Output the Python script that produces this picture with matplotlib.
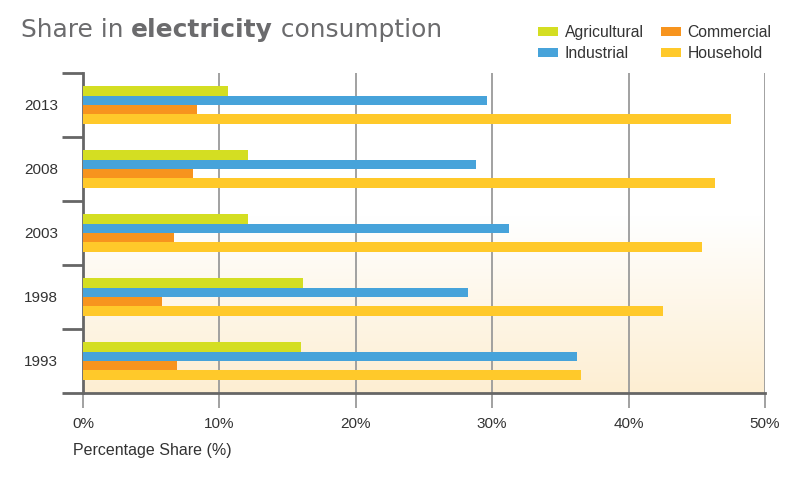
import numpy as np
import matplotlib
matplotlib.use('Agg')
import matplotlib.pyplot as plt
from matplotlib.colors import LinearSegmentedColormap
from matplotlib.patches import Patch

years = ['1993', '1998', '2003', '2008', '2013']
agricultural = [16.0, 16.1, 12.1, 12.1, 10.6]
industrial = [36.2, 28.2, 31.2, 28.8, 29.6]
commercial = [6.9, 5.8, 6.7, 8.1, 8.35]
household = [36.5, 42.5, 45.4, 46.3, 47.5]

series_names = ['Agricultural', 'Industrial', 'Commercial', 'Household']
colors = ['#D4DE22', '#47A3DA', '#F7941E', '#FFC92A']

plt.rcParams['font.family'] = ['Liberation Sans', 'DejaVu Sans']

fig = plt.figure(figsize=(8, 4.8), dpi=100)
ax = fig.add_axes([83/800, 1 - 393/480, (765-83)/800, (393-73)/480])

# soft peach gradient at the bottom of the plot area
grad = np.linspace(0, 1, 256).reshape(-1, 1)
cmap = LinearSegmentedColormap.from_list('bg', [(0, '#FDEED2'), (0.55, '#FFFFFF'), (1, '#FFFFFF')])
ax.imshow(grad, cmap=cmap, origin='lower', aspect='auto',
          extent=[0, 1, 0, 1], transform=ax.transAxes, zorder=0)

y = np.arange(len(years))
h = 0.146
data = [agricultural, industrial, commercial, household]
offsets = [1.5*h, 0.5*h, -0.5*h, -1.5*h]
for vals, off, c in zip(data, offsets, colors):
    ax.barh(y + off, vals, height=h, color=c, zorder=3)

ax.set_xlim(0, 50)
ax.set_ylim(-0.5, len(years) - 0.5)

for xv in [10, 20, 30, 40, 50]:
    ax.axvline(xv, color='#9A9A9A', lw=1.3, zorder=1)

ax.set_xticks([0, 10, 20, 30, 40, 50])
ax.set_xticklabels(['0%', '10%', '20%', '30%', '40%', '50%'])
ax.tick_params(axis='x', length=11, width=1.3, color='#9A9A9A', pad=6,
               labelsize=11, labelcolor='#333333')

ax.set_yticks(np.arange(-0.5, len(years)), labels=[''] * (len(years) + 1))
ax.set_yticks(y, labels=years, minor=True)
ax.tick_params(axis='y', which='major', length=15, width=2, color='#666666')
ax.tick_params(axis='y', which='minor', length=0, pad=18, labelsize=11,
               labelcolor='#333333')

for s in ['top', 'right']:
    ax.spines[s].set_visible(False)
ax.spines['left'].set_color('#666666')
ax.spines['left'].set_linewidth(2)
ax.spines['bottom'].set_color('#666666')
ax.spines['bottom'].set_linewidth(2)
ax.spines['bottom'].set_zorder(4)

fig.text(73/800, 1 - 451/480, 'Percentage Share (%)', fontsize=11.5,
         color='#333333', va='center', ha='left')

# title with bold middle word
r = fig.canvas.get_renderer()
x0 = 21/800
yb = 1 - 37/480
tcol = '#6B6B6D'
parts = [('Share in ', 'normal'), ('electricity', 'bold'), (' consumption', 'normal')]
for txt, wt in parts:
    t = fig.text(x0, yb, txt, fontsize=17.9, fontweight=wt, color=tcol,
                 family='DejaVu Sans', va='baseline', ha='left')
    bb = t.get_window_extent(renderer=r)
    x0 += bb.width / fig.bbox.width

handles = [Patch(facecolor=c, label=n) for c, n in zip(colors, series_names)]
fig.legend(handles=handles, ncol=2, loc='upper left',
           bbox_to_anchor=(530/800, 1 - 17/480), frameon=False,
           fontsize=11.3, handlelength=1.3, handleheight=0.5,
           handletextpad=0.4, columnspacing=1.1, labelspacing=0.4,
           borderpad=0, labelcolor='#333333')

fig.savefig('out.png', dpi=100, facecolor='white')
